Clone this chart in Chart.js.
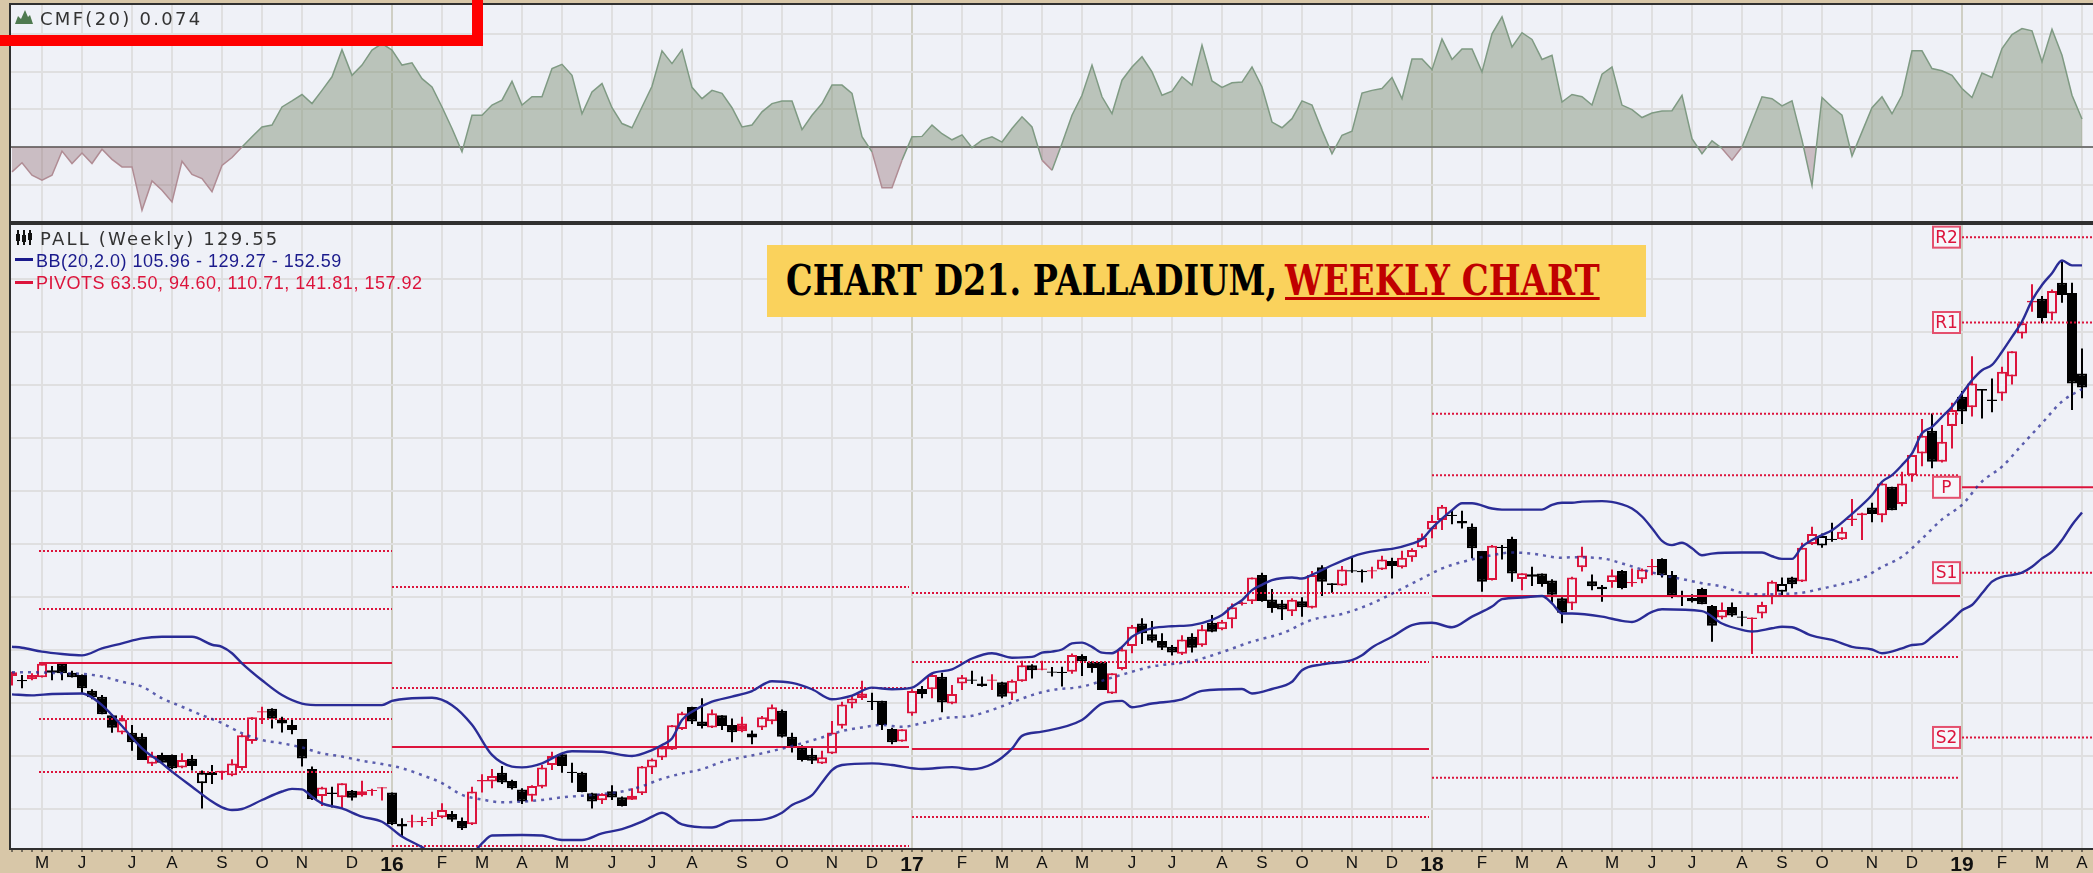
<!DOCTYPE html>
<html>
<head>
<meta charset="utf-8">
<title>PALL weekly</title>
<script src="https://cdn.jsdelivr.net/npm/chart.js@4/dist/chart.umd.js"></script>
<style>
  html, body { margin: 0; padding: 0; background: #d8c7a8; overflow: hidden; }
  #wrap { position: relative; width: 2093px; height: 873px; overflow: hidden; }
  canvas { position: absolute; left: 0; filter: blur(0.45px); }
  .tag { position: absolute; white-space: nowrap; line-height: 1; }
  .dash { position: absolute; left: 15px; width: 18px; height: 3px; }
  #redBox { position: absolute; left: -20px; top: -20px; width: 503px; height: 66px; box-sizing: border-box; border: 11px solid #ff0000; }
  #banner { position: absolute; left: 767px; top: 245px; width: 879px; height: 72px; background: #fad25c; }
  #banner span { position: absolute; top: 14px; white-space: nowrap; font: bold 43px "DejaVu Serif", serif; line-height: 1; transform-origin: 0 0; }
</style>
</head>
<body>
<div id="wrap">
  <canvas id="cmfChart" width="2093" height="224" style="top:0"></canvas>
  <canvas id="priceChart" width="2093" height="651" style="top:222px"></canvas>

  <div id="redBox"></div>
  <svg style="position:absolute;left:15px;top:9px" width="19" height="16"><path d="M0 15 L3 7 L6 10 L10 1 L13 8 L15 6 L18 15 Z" fill="#4f7a50"/></svg>
  <div class="tag" style="left:40px;top:8px;font:18px 'DejaVu Sans';letter-spacing:2.3px;color:#333">CMF(20) 0.074</div>

  <svg style="position:absolute;left:15px;top:229px" width="19" height="17"><path d="M3 1 V16 M9 1 V16 M15 1 V16" stroke="#111" stroke-width="2"/><path d="M1 5 H5 V12 H1 Z M13 4 H17 V11 H13 Z M7 6 H11 V13 H7 Z" fill="#111"/></svg>
  <div class="tag" style="left:40px;top:228px;font:18px 'DejaVu Sans';letter-spacing:2.2px;color:#333">PALL (Weekly) 129.55</div>
  <div class="dash" style="top:258px;background:#1a1a8c"></div>
  <div class="tag" style="left:36px;top:251px;font:18px 'Liberation Sans';letter-spacing:0.5px;color:#1a1a8c">BB(20,2.0) 105.96 - 129.27 - 152.59</div>
  <div class="dash" style="top:281px;background:#dc143c"></div>
  <div class="tag" style="left:36px;top:273px;font:18px 'Liberation Sans';letter-spacing:0.5px;color:#dc143c">PIVOTS 63.50, 94.60, 110.71, 141.81, 157.92</div>

  <div id="banner">
    <span id="t1" style="left:19px;color:#000">CHART D21. PALLADIUM,</span>
    <span id="t2" style="left:518px;color:#c00000;text-decoration:underline;text-decoration-thickness:3px">WEEKLY CHART</span>
  </div>
</div>

<script>
// month ticks, position counted in weeks from the first bar
const monthWeeks = [3,7,12,16,21,25,29,34,38,43,47,51,55,60,64,68,73,77,82,86,90,95,99,103,107,112,116,121,125,129,134,138,142,147,151,155,160,164,168,173,177,181,186,190,195,199,203,207];
const monthLabels = ['M','J','J','A','S','O','N','D','16','F','M','A','M','J','J','A','S','O','N','D','17','F','M','A','M','J','J','A','S','O','N','D','18','F','M','A','M','J','J','A','S','O','N','D','19','F','M','A'];
const yearLabels = ['16','17','18','19'];

const priceTicks = [50,60,70,80,90,100,110,120,130,140,150];
const cmfTicks = [-0.1,0,0.1,0.2,0.3];

const candleOpen = [
  75.1,74.34,75.3,74.85,75.7,77.4,75.7,75.3,72.3,71.2,
  67.7,64.45,64.4,63.65,58.55,60.2,60.2,57.85,59.5,54.85,
  57.05,56.9,56.35,57.75,62.85,68.2,68.9,66.9,65.85,63.2,
  57.55,52.45,53.1,52.2,53.45,52.6,53.4,53.85,53.1,47.2,
  47.5,47.5,48.1,48.45,49.05,47.75,47.1,55.2,55.2,56.85,
  55.3,53.7,52.5,54.2,58.3,60.35,57.05,56.85,52.95,51.65,
  53.35,52.2,51.75,52.95,57.85,59.7,61.25,65.1,69.25,66.5,
  65.4,67.7,65.85,66.15,63.5,65.4,66.55,68.55,63.65,61.65,
  60.25,58.6,60.45,65.7,69.9,71.8,70.45,70.45,65.1,62.75,
  68,72.65,72.6,74.95,69.9,73.7,74.45,73.7,74.2,73.9,
  71.8,74.1,77.15,76.3,75.95,75.9,75.9,78.85,77.8,77.8,
  71.8,76.4,80.75,85,83,81.7,80.6,79.3,82.5,80.9,
  85.15,83.9,85.8,88.7,89.2,94.15,89.55,88.8,87.3,89.2,
  88,95.6,92.6,92.2,95.05,94.95,94.8,95.2,96.8,95.6,
  97.5,99.4,102.75,104.55,105.55,104.35,103.25,98.7,93.2,99.5,
  100.95,93.4,93.85,94.45,93.1,89.75,88.8,95.6,93,91.95,
  92.85,94.9,92.6,93.35,95.6,97.2,94.15,90.2,89.2,91.5,
  88.3,86.15,88.1,86.35,85.85,86.9,90.05,91,93.7,92.95,
  100,99.75,101,100.9,104.55,105.45,106.9,105.45,110.8,107.55,
  113,117.1,121.4,115.55,122.3,127.8,125.8,129.25,127.3,128.4,
  131.6,139.75,145.6,146.3,143.5,149.3,147.4,132.2
];
const candleClose = [
  75.8,74.09,74.5,77.4,76.2,75.6,74.85,72.8,71.1,67.9,
  65.35,66.9,62.6,59.25,60.05,58.75,57.7,59.25,58.1,56.85,
  56.4,57.2,58.6,63.9,67.3,68.45,67.05,66.15,64.9,59.55,
  51.85,54.05,52.85,54.85,52.1,53.35,53.6,54.1,47.1,46.7,
  47.7,47.75,48.35,49.8,47.95,46.35,53.3,55.45,56.25,55,
  53.9,51.4,54.35,57.85,60,58.1,56.8,53.2,51.4,52.85,
  52.15,50.55,52.5,58,59.35,61.6,65.8,68.05,66.5,65.65,
  68.05,65.65,64.5,64.65,64.27,67.3,69.2,63.65,61.9,59.25,
  59.1,59.75,64.45,69.7,70.85,70.95,70.2,65.85,62.6,65.05,
  72.25,71.7,75.3,70.1,71.7,74.85,74.2,73.2,74.45,71.2,
  74.2,77.15,76.2,76.5,75.7,75.65,79.05,77.9,76.6,72.45,
  75.6,80.1,84.4,83.15,81.75,80.45,79.55,82,80.45,83.9,
  83.45,85.35,88.05,88.95,93.7,89.25,87.95,87.65,89.5,88.05,
  94.15,92.9,92.25,95.2,94.8,94.7,95.05,97.1,95.85,97.4,
  98.9,101.2,104.35,107.05,105.3,103.9,99.2,92.9,99.7,99.25,
  94.45,94.5,94.3,92.45,90.45,87.05,93.7,97.85,92.05,91.45,
  94.1,91.7,92.85,95.2,95.85,94.1,90.35,89.95,89.8,88.65,
  84.6,87.55,86.5,86.1,86.15,88.5,92.9,92.45,92.4,99.3,
  101.9,101.5,100.75,102.3,104.8,105.8,105.65,111.45,106.4,111.45,
  116.8,120.45,115.55,119.3,125.3,125,130.3,128.95,127,132.5,
  136.4,141.65,145.9,142.65,147.75,147,130.3,129.55
];
const candleHigh = [
  75.9,75.3,75.6,77.5,77,77.6,76.1,75.4,72.6,71.5,
  67.9,67.7,65.85,64.3,60.8,60.6,60.3,60.5,60.2,57.25,
  58.3,57.2,59.4,64.1,67.3,69.3,69,67.4,66.8,63.2,
  58,54.2,54.2,54.85,53.6,55.35,53.8,54.1,53.1,48.25,
  48.9,48.55,49.5,51.1,49.6,48.4,54.2,56.55,57.55,58.1,
  55.5,53.9,54.5,58.3,60.8,60.5,58.75,57.05,53.05,52.95,
  54.5,52.35,53.9,58.1,59.55,62.25,65.85,68.35,69.3,70.9,
  68.8,67.7,67.1,67.4,64.8,67.55,69.7,68.8,64.4,62.05,
  61.45,61,66.6,70.25,71.5,74.2,71.95,70.45,65.35,65.05,
  72.6,73.2,75.6,75.7,73.4,75.3,76.1,75,75.45,74,
  74.45,78,77.3,78,76.8,76.85,79.35,79.2,77.9,77.8,
  75.6,80.5,84.7,86,85.5,83.15,80.95,82.8,83.15,84.7,
  86.6,85.65,88.8,89.1,93.7,94.6,91.5,89.45,89.75,89.95,
  94.9,96,92.6,95.85,97.4,95.2,95.7,97.8,97.4,98.75,
  99.2,102,105.5,107.35,106.4,106.3,103.9,98.7,99.8,99.8,
  101.4,94.5,95.7,94.45,93.35,89.95,93.85,99.5,94.25,92.25,
  95.2,95.1,95.4,95.4,97.2,97.3,94.9,91.2,90.55,91.75,
  88.5,88.95,88.95,87.35,86.15,89.1,93.1,93.7,93.85,100.25,
  103.25,102,104,103.15,108.5,105.9,107.8,111.6,110.8,113.65,
  116.8,123.6,124.65,122.45,126.65,128.9,135.45,129.25,131.25,133.45,
  136.4,141.65,149.05,146.8,148.05,153.45,149.3,136.9
];
const candleLow = [
  73.3,72.8,74.3,74.8,74.3,74.3,74.8,71.8,70.7,67.9,
  64.4,64.1,61,59.25,58.1,58.6,57.5,57.7,57.25,50.1,
  54.7,55.5,56.2,57.25,62.3,66.05,65.2,64.45,64.1,58,
  51.7,50.55,50.3,50.1,51.6,52.35,52.5,51.6,47,44.7,
  46.5,46.8,46.8,48.25,47.6,46.05,47,53.1,53.9,54.7,
  53.7,50.95,51.4,53.9,57.35,56.85,54.95,53.15,50.1,50.95,
  51.7,50.45,51.7,52.65,56.6,59.25,61.15,64.9,66.05,65.2,
  65.3,64.9,62.6,64.5,62.2,64.9,66,63.5,60.65,58.95,
  58.5,58.5,60.4,65.2,69,70.55,68.7,64.9,62.2,62.7,
  67.6,70.9,70.9,68.25,69.75,72.45,73.6,73.05,72.45,70.9,
  70.55,74,74.65,76.2,75,73.1,75.5,75.1,75.7,72.45,
  71.7,76.2,79.4,81.15,81.4,80,78.95,79.05,79.55,80.6,
  83.35,83.75,84.1,88.4,88.7,89.1,87.05,85.65,86.4,86.3,
  87.85,90.2,90.8,92.1,94.6,92.75,93.5,95.1,93.5,95.4,
  96.65,99.2,101.1,102.65,103.75,102.95,97.3,91,93.1,97.1,
  92.9,91.3,92.1,91.95,88.8,85.05,87.55,94.8,91.3,89.1,
  91.75,91.45,91.95,92.6,94.1,93.7,89.75,88.3,88.95,88.65,
  81.55,85.8,86.3,84.5,79.25,86,88.65,90.35,91.65,92.85,
  99.8,99.3,100.45,100.75,103.4,100.75,104.1,104.1,106.4,107.15,
  111.75,114.7,114.3,115.4,118.05,122.65,124.05,123.7,124.85,127.05,
  130.1,138.8,143.85,141.65,142.25,145.55,125.3,127.5
];

const cmfValues = [
  -.066,-.042,-.075,-.088,-.075,-.011,-.044,-.016,-.044,-.006,
  -.033,-.053,-.053,-.168,-.09,-.115,-.146,-.038,-.073,-.084,
  -.119,-.049,-.028,0,.027,.053,.058,.106,.122,.139,
  .115,.15,.186,.258,.19,.217,.257,.274,.257,.217,
  .223,.181,.159,.106,.049,-.013,.084,.084,.111,.124,
  .174,.111,.133,.133,.208,.219,.19,.088,.146,.168,
  .104,.062,.051,.106,.161,.255,.221,.258,.158,.128,
  .15,.142,.104,.053,.058,.093,.115,.122,.122,.046,
  .084,.115,.164,.164,.142,.027,-.013,-.108,-.108,-.035,
  .027,.028,.058,.035,.019,.032,-.002,.018,.027,.013,
  .049,.08,.053,-.035,-.062,.009,.084,.137,.217,.133,
  .088,.177,.212,.239,.199,.137,.148,.186,.164,.27,
  .175,.158,.17,.172,.212,.159,.066,.051,.075,.122,
  .111,.044,-.018,.031,.042,.143,.15,.155,.184,.128,
  .233,.233,.205,.286,.232,.26,.26,.199,.3,.345,
  .265,.303,.285,.232,.243,.119,.139,.133,.111,.193,
  .212,.111,.099,.078,.09,.095,.096,.137,.022,-.018,
  .016,-.004,-.035,0,.066,.133,.128,.109,.122,.018,
  -.102,.131,.106,.084,-.024,.04,.104,.133,.088,.137,
  .255,.255,.208,.202,.19,.155,.131,.196,.184,.261,
  .298,.314,.308,.226,.312,.243,.137,.074
];

const bbUpperWeeks = [0,1,3,5,7,9,11,13,15,18,20,21,22,23,25,27,29,31,37,38,40,42,44,46,48,50,51,53,54,55,56,59,62,64,65,66,67,68,70,72,74,76,78,80,82,84,86,88,90,92,94,96,98,100,102,103,104,105,106,107,108,109,110,111,112,113,114,116,118,120,121,122,123,124,125,126,128,129,130,132,134,135,137,138,140,141,142,143,144,145,146,148,149,153,154,155,156,157,159,161,162,163,164,165,166,167,168,169,170,173,175,176,177,178,179,180,181,182,184,186,187,188,189,190,191,192,193,194,195,196,197,198,199,200,201,202,203,204,205,206,207];
const bbUpperValues = [80.63,80.44,79.69,79.25,79,80.3,81.26,82.2,82.5,82.5,81,80.6,79.4,77.5,74.3,71.5,69.9,69.6,69.6,70.4,70.9,71,69.6,65.9,60.2,58,57.86,58.61,59.56,60.5,60.9,60.8,60,61.1,62.07,63.3,66.8,68.36,70.25,71.2,72.26,74.1,73.8,72.6,70.7,71.4,72.9,72.6,72.9,75.6,76.35,78.4,79.4,78.55,78.7,79.5,79.7,80.1,81.26,81.4,80.6,79.5,79.4,80.6,82.5,83.5,84.1,84.5,84.7,85.7,86.6,88.2,89.4,91.3,92.3,93.2,93.7,93.5,94.2,96,97.6,98.2,98.9,99.1,100.1,100.9,103,104.8,106.4,107.7,107.7,106.7,106.5,106.5,107.4,107.8,107.8,108,108.1,107.5,106.7,105.2,103,100.6,99.8,100.25,99.2,97.9,98.2,98.4,98.4,97.7,97.2,97.2,99.5,100.75,101.7,102.6,105.7,109.25,111.76,113,114.9,117.1,120.9,122.1,124,125.9,128.4,130.9,132.8,133.8,136.3,139.1,142,146,148.9,151.1,153.5,152.6,152.59];

const bbLowerWeeks = [0,2,4,7,8,9,10,11,13,15,16,18,20,21,22,23,25,27,28,29,30,31,33,35,37,39,41,42,44,46,47,48,51,53,55,57,59,61,63,64,65,67,70,72,75,77,78,80,81,82,83,86,88,91,94,96,98,100,101,103,107,109,111,112,114,117,119,123,124,126,128,129,131,134,135,136,138,140,142,144,146,148,149,151,153,154,155,156,159,161,162,164,165,169,171,173,174,176,177,178,180,182,184,186,187,189,190,191,192,194,195,196,197,198,199,200,201,202,203,204,205,206,207];
const bbLowerValues = [71.64,71.45,71.7,71.8,71.07,69.6,67.74,65.66,61.45,58.6,57.05,54.2,51.4,50.3,49.8,50,51.7,53.3,53.8,53.7,52.3,51.07,50.1,48.56,47.6,44.8,42.8,41.6,40,41.5,43.5,45,45.1,45,44.15,44.15,45.4,46.2,47.6,48.55,49.3,47.1,46.5,47.8,48,49.3,50.75,52.6,55,57.35,58.3,58.6,58.3,57.55,57.9,57.5,58.5,61.4,63.8,64.6,66.8,69.9,70.4,69.2,69.9,70.7,72.3,72.65,71.8,72.65,74,76.2,77.3,78.1,79,80.5,82.5,84.7,85.15,84.3,86.3,88.2,89.6,89.9,90.2,88.8,86.9,86.9,86.3,85.5,85.3,87.2,87.7,87.35,85,83.8,83.5,84.1,84.4,84.3,82.7,81.9,80.6,80.1,79.4,80.3,80.95,81.1,82.5,85.7,87.5,88.5,90.7,92.9,93.8,94.15,94.6,95.7,97.3,98.55,100.75,103.6,105.96];

const bbMiddleWeeks = [0,2,5,7,9,11,13,15,17,19,21,23,25,27,29,31,33,35,37,39,41,43,45,47,49,51,53,55,59,61,63,65,67,69,71,73,75,77,79,81,83,85,87,89,91,93,96,98,100,102,104,107,110,112,114,118,121,124,127,130,133,136,139,141,143,146,148,150,152,155,156,159,161,163,165,167,169,171,173,175,177,179,181,183,185,187,189,191,193,195,197,199,201,203,205,207];
const bbMiddleValues = [75.8,75.8,75.6,75.5,75,74,73.1,70.9,69.3,67.7,66.2,64.3,63,62.4,61.6,60.5,59.9,59.1,58.5,57.7,56.4,54.9,52.65,51.8,51.26,51.4,51.7,52.2,52.8,53.3,54.3,55.7,56.7,57.5,58.9,59.75,60.5,61.4,62.4,63.5,64.7,65.4,65.85,65.5,66.2,67.1,67.6,68.7,70.1,71.5,72.45,73.1,74.8,75.9,76.9,77.9,79.6,81.6,83.15,85.7,86.8,88.8,91.6,93.5,95.4,97.1,97.9,98.4,98.2,97.4,97.5,97.3,96.35,95.2,94.15,93.4,92.6,92,90.8,90.5,90.6,90.8,91.6,92.45,93.5,95.7,97.6,101,104.65,107.4,111.8,114.6,118.7,122.8,126.9,129.27];

// pivot levels per year: R2, R1, P, S1, S2
const pivotLabels = ['R2','R1','P','S1','S2'];
const pivotStartWeeks = [2.7, 38, 90, 142, 195];
const pivotEndWeeks = [38, 89.7, 141.7, 194.8, 209];
const pivots2015 = [98.7, 87.75, 77.55, 67, 57];
const pivots2016 = [91.9, 72.85, 61.7, 43];
const pivots2017 = [90.75, 77.75, 61.3, 48.5];
const pivots2018 = [124.6, 113, 90.2, 78.7, 55.9];
const pivots2019 = [157.92, 141.81, 110.71, 94.6, 63.5];

const panelColor = '#eff1f7';
const gridColor = '#dfdfe0';
const yearGridColor = '#cfcfc4';
const red = '#dc143c';
const blue = '#2a2c96';
const yearWeeks = monthWeeks.filter((w, i) => yearLabels.includes(monthLabels[i]));

function points(weeks, values) {
  return values.map((v, i) => ({ x: weeks[i], y: v }));
}

// black when the close is below last week's close, red otherwise; hollow on an up week
function candleColor(i) {
  return i > 0 && candleClose[i] < candleClose[i - 1] ? '#000000' : red;
}

function xGridColor(ctx) {
  const w = ctx.tick ? ctx.tick.value : -1;
  if (yearWeeks.includes(w)) return yearGridColor;
  return monthWeeks.includes(w) ? gridColor : 'rgba(0,0,0,0)';
}

// panel fill and the dark frame around it
const panelPlugin = {
  id: 'panel',
  beforeDraw(chart) {
    const a = chart.chartArea, c = chart.ctx;
    c.fillStyle = panelColor;
    c.fillRect(a.left, a.top, a.right - a.left, a.bottom - a.top);
  },
  afterDraw(chart) {
    const a = chart.chartArea, c = chart.ctx;
    c.strokeStyle = '#303030';
    c.lineWidth = 2;
    c.beginPath();
    c.moveTo(a.right, a.top);
    c.lineTo(a.left, a.top);
    c.lineTo(a.left, a.bottom);
    c.lineTo(a.right, a.bottom);
    c.stroke();
  }
};

// boxed R2/R1/P/S1/S2 names in front of the current year's levels
const pivotBoxPlugin = {
  id: 'pivotBoxes',
  afterDatasetsDraw(chart) {
    const c = chart.ctx, xs = chart.scales.x, ys = chart.scales.y;
    const right = xs.getPixelForValue(pivotEndWeeks[3]);
    c.save();
    c.font = '17px "DejaVu Sans"';
    c.textAlign = 'center';
    c.textBaseline = 'middle';
    pivotLabels.forEach((name, i) => {
      const y = ys.getPixelForValue(pivots2019[i]);
      c.fillStyle = '#f6f6fb';
      c.fillRect(right - 27, y - 10.5, 27, 21);
      c.strokeStyle = '#e4506e';
      c.lineWidth = 2;
      c.strokeRect(right - 27, y - 10.5, 27, 21);
      c.fillStyle = red;
      c.fillText(name, right - 13.5, y + 1);
    });
    c.restore();
  }
};

function pivotDatasets() {
  const years = [pivots2015, pivots2016, pivots2017, pivots2018, pivots2019];
  const sets = [];
  years.forEach((levels, y) => {
    levels.forEach((v, k) => {
      const solid = k === 2;
      sets.push({
        type: 'line',
        data: points([pivotStartWeeks[y], pivotEndWeeks[y]], [v, v]),
        borderColor: red,
        borderWidth: 2,
        borderDash: solid ? [] : [2, 2],
        pointRadius: 0,
        order: 2
      });
    });
  });
  return sets;
}

function bandDataset(weeks, values, dotted) {
  return {
    type: 'line',
    data: points(weeks, values),
    borderColor: dotted ? 'rgba(42,44,150,0.75)' : blue,
    borderWidth: dotted ? 2.5 : 2.4,
    borderDash: dotted ? [3, 5] : [],
    cubicInterpolationMode: 'monotone',
    pointRadius: 0,
    order: 1
  };
}

const weeks = candleClose.map((v, i) => i);
const xRange = { min: -0.2, max: 208.1 };

new Chart(document.getElementById('cmfChart'), {
  type: 'line',
  data: {
    datasets: [{
      data: points(weeks, cmfValues),
      borderColor: '#7f9a83',
      borderWidth: 1.5,
      pointRadius: 0,
      tension: 0,
      fill: { target: { value: 0 }, above: 'rgba(108,128,96,0.4)', below: 'rgba(128,84,92,0.33)' },
      segment: {
        borderColor: ctx => (ctx.p0.parsed.y < 0 && ctx.p1.parsed.y <= 0 ? '#b08c94' : '#7f9a83')
      }
    }]
  },
  options: {
    responsive: false,
    animation: false,
    layout: { padding: { left: 10, top: 4, bottom: 2 } },
    plugins: { legend: { display: false }, tooltip: { enabled: false } },
    scales: {
      x: {
        type: 'linear', ...xRange,
        afterBuildTicks: s => { s.ticks = monthWeeks.map(v => ({ value: v })); },
        ticks: { display: false },
        grid: { color: xGridColor, lineWidth: 2, drawTicks: false },
        border: { display: false }
      },
      y: {
        min: -0.199, max: 0.379,
        afterBuildTicks: s => { s.ticks = cmfTicks.map(v => ({ value: v })); },
        ticks: { display: false },
        grid: { color: ctx => (ctx.tick && ctx.tick.value === 0 ? '#777777' : gridColor), lineWidth: 2, drawTicks: false },
        border: { display: false }
      }
    }
  },
  plugins: [panelPlugin]
});

new Chart(document.getElementById('priceChart'), {
  type: 'bar',
  data: {
    datasets: [
      {
        data: weeks.map(i => ({ x: i, y: [candleLow[i], candleHigh[i]] })),
        backgroundColor: ctx => candleColor(ctx.dataIndex),
        barThickness: 2,
        inflateAmount: 0,
        grouped: false,
        order: 5
      },
      {
        data: weeks.map(i => ({ x: i, y: [candleOpen[i], candleClose[i]] })),
        backgroundColor: ctx => (candleClose[ctx.dataIndex] >= candleOpen[ctx.dataIndex] ? panelColor : candleColor(ctx.dataIndex)),
        borderColor: ctx => candleColor(ctx.dataIndex),
        borderWidth: 2,
        borderSkipped: false,
        barThickness: 10,
        inflateAmount: 0,
        grouped: false,
        order: 4
      },
      ...pivotDatasets(),
      bandDataset(bbUpperWeeks, bbUpperValues, false),
      bandDataset(bbLowerWeeks, bbLowerValues, false),
      bandDataset(bbMiddleWeeks, bbMiddleValues, true)
    ]
  },
  options: {
    responsive: false,
    animation: false,
    layout: { padding: { left: 10, top: 2, bottom: 0 } },
    plugins: { legend: { display: false }, tooltip: { enabled: false } },
    scales: {
      x: {
        type: 'linear', ...xRange, offset: false,
        afterBuildTicks: s => { s.ticks = weeks.map(v => ({ value: v })); },
        afterFit: s => { s.height = 24; s.paddingLeft = 0; s.paddingRight = 0; },
        ticks: {
          autoSkip: false,
          maxRotation: 0,
          padding: 1,
          color: '#111111',
          callback: v => {
            const k = monthWeeks.indexOf(v);
            return k >= 0 ? monthLabels[k] : '';
          },
          font: ctx => (ctx.tick && yearWeeks.includes(ctx.tick.value)
            ? { family: 'Liberation Sans', size: 21, weight: 'bold' }
            : { family: 'Liberation Sans', size: 17 })
        },
        grid: { offset: false, color: xGridColor, lineWidth: 2, tickLength: 3, tickColor: '#111111', tickWidth: 1 },
        border: { display: false }
      },
      y: {
        min: 42.45, max: 160.4,
        afterBuildTicks: s => { s.ticks = priceTicks.map(v => ({ value: v })); },
        ticks: { display: false },
        grid: { color: gridColor, lineWidth: 2, drawTicks: false },
        border: { display: false }
      }
    }
  },
  plugins: [panelPlugin, pivotBoxPlugin]
});

// stretch the banner text to its measured widths
[['t1', 491], ['t2', 315]].forEach(([id, w]) => {
  const el = document.getElementById(id);
  el.style.transform = 'scaleX(' + (w / el.offsetWidth) + ')';
});
</script>
</body>
</html>
